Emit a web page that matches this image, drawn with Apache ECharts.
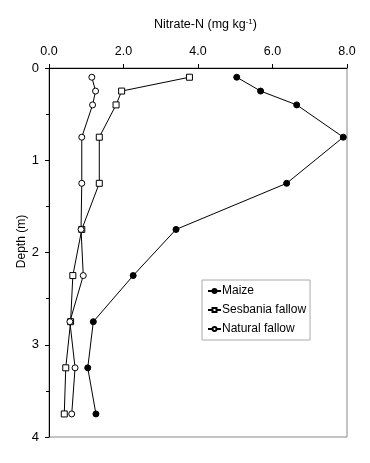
<!DOCTYPE html>
<html>
<head>
<meta charset="utf-8">
<script src="https://cdn.jsdelivr.net/npm/echarts@6/dist/echarts.min.js"></script>
<style>html,body{margin:0;padding:0;background:#fff}#c{width:370px;height:463px}</style>
</head>
<body>
<div id="c"></div>
<script>
var depths = [0.1, 0.25, 0.4, 0.75, 1.25, 1.75, 2.25, 2.75, 3.25, 3.75];
var maize = [5.04, 5.68, 6.65, 7.90, 6.38, 3.41, 2.26, 1.19, 1.04, 1.26];
var sesbania = [3.77, 1.95, 1.80, 1.35, 1.35, 0.88, 0.64, 0.58, 0.45, 0.41];
var natural = [1.15, 1.25, 1.17, 0.88, 0.88, 0.86, 0.92, 0.56, 0.70, 0.61];
var xTicks = [0, 2, 4, 6, 8];
var yTicks = [0, 1, 2, 3, 4];

function pairs(vals) { return vals.map(function (v, i) { return [v, depths[i]]; }); }
var font = 'Arial, "Liberation Sans", sans-serif';
var chart = echarts.init(document.getElementById('c'));
function mk(name, vals, symbol, fill, size) {
  return {
    name: name, type: 'line', data: pairs(vals), symbol: symbol, symbolSize: size,
    showAllSymbol: true,
    lineStyle: { color: '#000', width: 1 },
    itemStyle: { color: fill, borderColor: '#000', borderWidth: 1 },
    emphasis: { disabled: true }, animation: false, z: symbol === 'circle' && fill === '#fff' ? 3 : 2
  };
}
chart.setOption({
  animation: false,
  backgroundColor: '#fff',
  title: {
    text: 'Nitrate-N (mg kg{sup|-1})',
    left: 149, top: 13,
    textStyle: { fontFamily: font, fontSize: 12.5, fontWeight: 'normal', color: '#000',
      rich: { sup: { fontSize: 8, verticalAlign: 'top', padding: [0, 0, 6, 0], fontFamily: font, color: '#000' } } }
  },
  grid: { left: 49, right: 23, top: 68, bottom: 26, show: true, borderColor: '#888', borderWidth: 1 },
  legend: {
    orient: 'vertical', left: 202, top: 280, width: 110,
    data: ['Maize', 'Sesbania fallow', 'Natural fallow'],
    itemWidth: 13, itemHeight: 5, itemGap: 7,
    padding: [5, 4, 5, 5],
    borderColor: '#aaa', borderWidth: 1, backgroundColor: '#fff',
    textStyle: { fontFamily: font, fontSize: 12, color: '#000', padding: [0, 0, 0, -4] },
    selectedMode: false
  },
  xAxis: {
    type: 'value', position: 'top', min: xTicks[0], max: xTicks[xTicks.length - 1], interval: 2,
    axisLine: { show: true, lineStyle: { color: '#000', width: 1 } },
    axisTick: { show: true, length: 4, lineStyle: { color: '#000' } },
    axisLabel: { fontFamily: font, fontSize: 12.5, color: '#000', margin: 10, formatter: function (v) { return v.toFixed(1); } },
    splitLine: { show: false }
  },
  yAxis: {
    type: 'value', inverse: true, min: yTicks[0], max: yTicks[yTicks.length - 1], interval: 1,
    name: 'Depth (m)', nameLocation: 'middle', nameGap: 21, nameMoveOverlap: false,
    nameTextStyle: { fontFamily: font, fontSize: 12, color: '#000', padding: [0, 0, 0, 22] },
    axisLine: { show: true, lineStyle: { color: '#000', width: 1 } },
    axisTick: { show: true, length: 4, lineStyle: { color: '#000' } },
    minorTick: { show: true, splitNumber: 2, length: 3, lineStyle: { color: '#000' } },
    axisLabel: { fontFamily: font, fontSize: 13, color: '#000', margin: 10 },
    splitLine: { show: false }
  },
  series: [
    mk('Maize', maize, 'circle', '#000', 6),
    mk('Sesbania fallow', sesbania, 'rect', '#fff', 6),
    mk('Natural fallow', natural, 'circle', '#fff', 6)
  ]
});
</script>
</body>
</html>
